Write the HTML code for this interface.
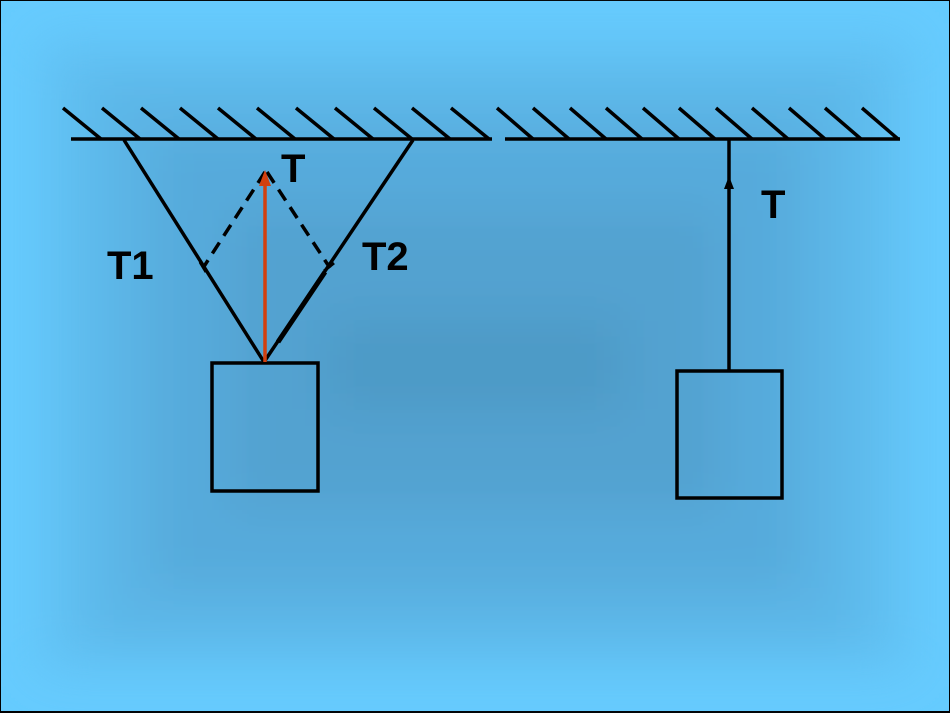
<!DOCTYPE html>
<html><head><meta charset="utf-8"><style>
html,body{margin:0;padding:0;width:950px;height:713px;overflow:hidden;background:#000}
svg{display:block}
text{font-family:"Liberation Sans",Arial,sans-serif;font-weight:bold;fill:#000}
</style></head><body>
<svg width="950" height="713" viewBox="0 0 950 713" xmlns="http://www.w3.org/2000/svg">
<defs>
<filter id="b" x="-20%" y="-20%" width="140%" height="140%"><feGaussianBlur stdDeviation="25"/></filter>
</defs>
<rect x="1" y="1" width="948" height="710" fill="#66cbfe"/>
<g filter="url(#b)">
<rect x="40" y="40" width="870" height="630" fill="#61c0f2"/>
<rect x="90" y="80" width="770" height="560" fill="#5cb5e6"/>
<rect x="150" y="130" width="650" height="460" fill="#57aadb"/>
<rect x="230" y="210" width="490" height="300" fill="#52a2d0"/>
<rect x="330" y="320" width="290" height="90" fill="#4d9ac6"/>
</g>
<g stroke="#000" stroke-width="3.5" fill="none" stroke-linecap="butt">
<line x1="71" y1="139" x2="492" y2="139"/>
<line x1="505" y1="139" x2="900" y2="139"/>
<path d="M63 108L101 139M102 108L140 139M141 108L179 139M180 108L218 139M218 108L256 139M257 108L295 139M296 108L334 139M335 108L373 139M374 108L412 139M412 108L450 139M451 108L489 139"/>
<path d="M497 108L533 139M533 108L569 139M570 108L606 139M606 108L642 139M643 108L679 139M679 108L715 139M716 108L752 139M752 108L788 139M789 108L825 139M825 108L861 139M862 108L898 139"/>
<line x1="124" y1="140" x2="264" y2="362"/>
<line x1="413" y1="140" x2="264" y2="362"/>
<line x1="325" y1="272" x2="278" y2="342" stroke-width="5"/>
<rect x="212" y="363" width="106" height="128"/>
<line x1="729" y1="140" x2="729" y2="371"/>
<rect x="677" y="371" width="105" height="127"/>
<line x1="265" y1="172" x2="203" y2="268" stroke-dasharray="13,8"/>
<line x1="267" y1="172" x2="330" y2="268" stroke-dasharray="13,8"/>
<line x1="200" y1="262" x2="206" y2="272" stroke-width="3"/>
<line x1="324" y1="271" x2="334" y2="263" stroke-width="3"/>
</g>
<line x1="265" y1="362" x2="265" y2="184" stroke="#d2400f" stroke-width="3.5"/>
<polygon points="265,170 259,186 271,186" fill="#d2400f"/>
<polygon points="729,176 724,189 734,189" fill="#000"/>
<text x="281" y="182" font-size="40">T</text>
<text x="107" y="279" font-size="40">T1</text>
<text x="362" y="270" font-size="40">T2</text>
<text x="761" y="218" font-size="40">T</text>
</svg>
</body></html>
